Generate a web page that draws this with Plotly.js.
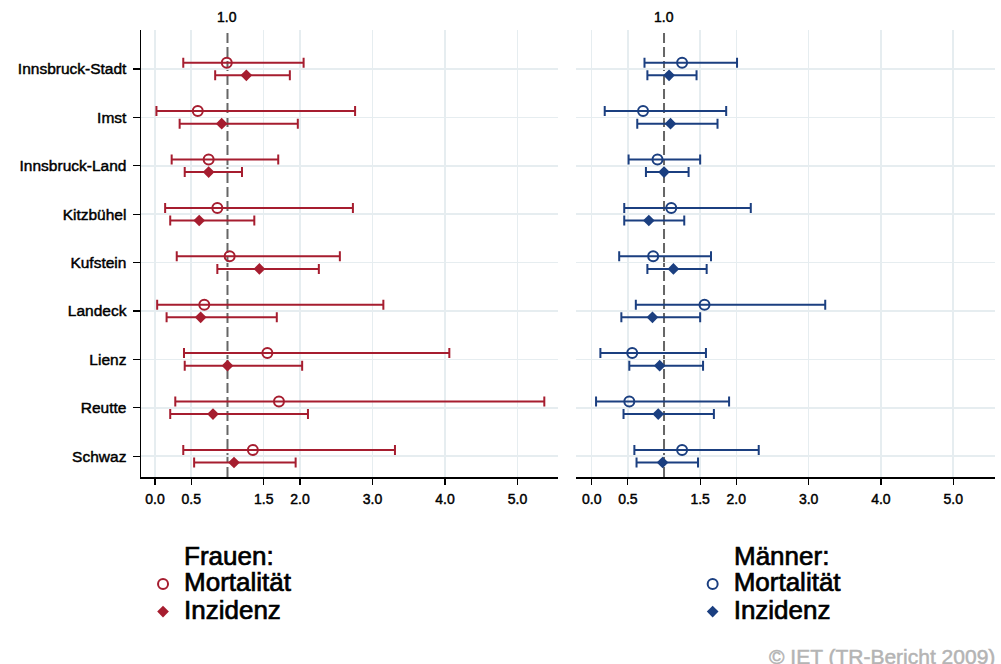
<!DOCTYPE html>
<html>
<head>
<meta charset="utf-8">
<script src="https://cdn.plot.ly/plotly-3.0.1.min.js"></script>
<style>
html,body{margin:0;padding:0;background:#fff;}
#chart{width:1001px;height:664px;}
</style>
</head>
<body>
<div id="chart"></div>
<script>
// ---- data ----
var districts = ['Innsbruck-Stadt','Imst','Innsbruck-Land','Kitzbühel','Kufstein','Landeck','Lienz','Reutte','Schwaz'];

var femaleMortality   = [0.99, 0.59, 0.74, 0.86, 1.03, 0.68, 1.55, 1.71, 1.35];
var femaleMortalityLo = [0.39, 0.02, 0.23, 0.14, 0.30, 0.03, 0.40, 0.28, 0.39];
var femaleMortalityHi = [2.05, 2.76, 1.70, 2.73, 2.55, 3.15, 4.06, 5.37, 3.31];
var femaleIncidence   = [1.26, 0.92, 0.74, 0.61, 1.44, 0.63, 1.00, 0.80, 1.09];
var femaleIncidenceLo = [0.83, 0.34, 0.41, 0.21, 0.86, 0.16, 0.41, 0.21, 0.54];
var femaleIncidenceHi = [1.86, 1.97, 1.20, 1.37, 2.26, 1.68, 2.03, 2.11, 1.94];

var maleMortality   = [1.25, 0.71, 0.91, 1.10, 0.85, 1.56, 0.56, 0.52, 1.25];
var maleMortalityLo = [0.73, 0.18, 0.51, 0.45, 0.38, 0.61, 0.12, 0.06, 0.59];
var maleMortalityHi = [2.01, 1.86, 1.50, 2.20, 1.65, 3.23, 1.58, 1.90, 2.31];
var maleIncidence   = [1.07, 1.09, 1.00, 0.79, 1.13, 0.84, 0.94, 0.92, 0.98];
var maleIncidenceLo = [0.77, 0.63, 0.75, 0.45, 0.77, 0.41, 0.52, 0.44, 0.62];
var maleIncidenceHi = [1.45, 1.74, 1.34, 1.28, 1.59, 1.50, 1.54, 1.69, 1.47];

var xTickVals = [0, 0.5, 1.5, 2, 3, 4, 5];
var referenceValue = 1.0;

var legendTitleFemale = 'Frauen:';
var legendTitleMale = 'Männer:';
var seriesNames = ['Mortalität', 'Inzidenz'];
var sourceText = '© IET (TR-Bericht 2009)';

// ---- style ----
var RED = '#a61d2f';
var BLUE = '#1b3f80';
var GRID = '#e6edf0';
var FONT = 'Liberation Sans, Arial, Helvetica, sans-serif';

function errs(pt, lo, hi, color) {
  return {
    type: 'data', symmetric: false,
    array: hi.map(function (h, i) { return h - pt[i]; }),
    arrayminus: lo.map(function (l, i) { return pt[i] - l; }),
    color: color, thickness: 2, width: 5
  };
}
function big(t) { return '<span style="font-size:26px">' + t + '</span>'; }

function mk(pt, lo, hi, color, symbol, name, xa, leg) {
  var open = symbol === 'circle-open';
  return {
    type: 'scatter', mode: 'markers', orientation: 'h',
    x: pt, y: districts, xaxis: xa, yaxis: 'y',
    name: big(name), legend: leg,
    marker: { symbol: symbol, size: open ? 10 : 9, color: color,
              line: { color: color, width: open ? 2 : 0 } },
    error_x: errs(pt, lo, hi, color), cliponaxis: false, hoverinfo: 'x+y'
  };
}

var traces = [
  mk(femaleMortality, femaleMortalityLo, femaleMortalityHi, RED, 'circle-open', seriesNames[0], 'x', 'legend'),
  mk(femaleIncidence, femaleIncidenceLo, femaleIncidenceHi, RED, 'diamond', seriesNames[1], 'x', 'legend'),
  mk(maleMortality, maleMortalityLo, maleMortalityHi, BLUE, 'circle-open', seriesNames[0], 'x2', 'legend2'),
  mk(maleIncidence, maleIncidenceLo, maleIncidenceHi, BLUE, 'diamond', seriesNames[1], 'x2', 'legend2')
];

function xax(domain, range) {
  return {
    domain: domain, range: range, anchor: 'y',
    tickvals: xTickVals, tickformat: '.1f',
    showgrid: true, gridcolor: GRID, gridwidth: 1.5,
    zeroline: false,
    showline: true, linecolor: '#000', linewidth: 1.5,
    ticks: 'outside', ticklen: 6, tickwidth: 1.2, tickcolor: '#000',
    ticklabelstandoff: 3,
    tickfont: { family: FONT, size: 14, color: '#000' },
    fixedrange: true
  };
}

var legendCommon = {
  orientation: 'v', xanchor: 'left', yanchor: 'top',
  bgcolor: 'rgba(0,0,0,0)', borderwidth: 0,
  font: { family: FONT, size: 19, color: '#000' },
  itemwidth: 32,
  itemclick: false, itemdoubleclick: false, tracegroupgap: 0
};

var layout = {
  width: 1001, height: 664,
  margin: { l: 141, r: 6, t: 30, b: 187 },
  paper_bgcolor: '#fff', plot_bgcolor: '#fff',
  font: { family: FONT, color: '#000' },
  scattermode: 'group', scattergap: 0.48,
  showlegend: true,
  xaxis: xax([0, 0.4883], [-0.193, 5.559]),
  xaxis2: xax([0.5094, 1], [-0.217, 5.578]),
  yaxis: {
    type: 'category', categoryorder: 'array', categoryarray: districts,
    range: [8.43, -0.806],
    showgrid: true, gridcolor: GRID, gridwidth: 1.5,
    showline: true, linecolor: '#000', linewidth: 1.5,
    ticks: 'outside', ticklen: 7, tickwidth: 1.2, tickcolor: '#000',
    ticklabelstandoff: 3,
    tickfont: { family: FONT, size: 15.5, color: '#000' },
    anchor: 'x', fixedrange: true
  },
  legend: Object.assign({}, legendCommon, { x: 0.0012, y: -0.197 }),
  legend2: Object.assign({}, legendCommon, { x: 0.6448, y: -0.197 }),
  shapes: [
    { type: 'line', xref: 'x', yref: 'paper', x0: referenceValue, x1: referenceValue, y0: 0, y1: 1,
      line: { color: '#666', width: 2, dash: '10px,4px' }, layer: 'between' },
    { type: 'line', xref: 'x2', yref: 'paper', x0: referenceValue, x1: referenceValue, y0: 0, y1: 1,
      line: { color: '#666', width: 2, dash: '10px,4px' }, layer: 'between' }
  ],
  annotations: [
    { xref: 'x', yref: 'paper', x: referenceValue, y: 1, yanchor: 'middle', yshift: 13,
      text: referenceValue.toFixed(1), showarrow: false, font: { family: FONT, size: 14, color: '#000' } },
    { xref: 'x2', yref: 'paper', x: referenceValue, y: 1, yanchor: 'middle', yshift: 13,
      text: referenceValue.toFixed(1), showarrow: false, font: { family: FONT, size: 14, color: '#000' } },
    { xref: 'paper', yref: 'paper', x: 0.048, y: -0.1767, xanchor: 'left', yanchor: 'middle',
      text: legendTitleFemale, showarrow: false, font: { family: FONT, size: 26, color: '#000' } },
    { xref: 'paper', yref: 'paper', x: 0.6921, y: -0.1767, xanchor: 'left', yanchor: 'middle',
      text: legendTitleMale, showarrow: false, font: { family: FONT, size: 26, color: '#000' } },
    { xref: 'paper', yref: 'paper', x: 1.0023, y: -0.3714, xanchor: 'right', yanchor: 'top',
      text: sourceText, showarrow: false, font: { family: FONT, size: 21, color: '#b4b4b4' } }
  ]
};

function thicken() {
  var root = document.getElementById('chart');
  var texts = root.querySelectorAll('svg text');
  texts.forEach(function (t) {
    var fs = parseFloat(t.style.fontSize) || 14;
    var big26 = t.querySelector('tspan[style*="26px"]') || fs >= 20;
    var fill = t.style.fill || '#000';
    var isSource = t.textContent.indexOf('IET') >= 0;
    t.style.stroke = isSource ? '#b4b4b4' : '#000';
    t.style.strokeWidth = isSource ? '0.5px' : (big26 ? '0.7px' : '0.45px');
  });
}

Plotly.newPlot('chart', traces, layout, { displayModeBar: false, staticPlot: true }).then(thicken);
</script>
</body>
</html>
